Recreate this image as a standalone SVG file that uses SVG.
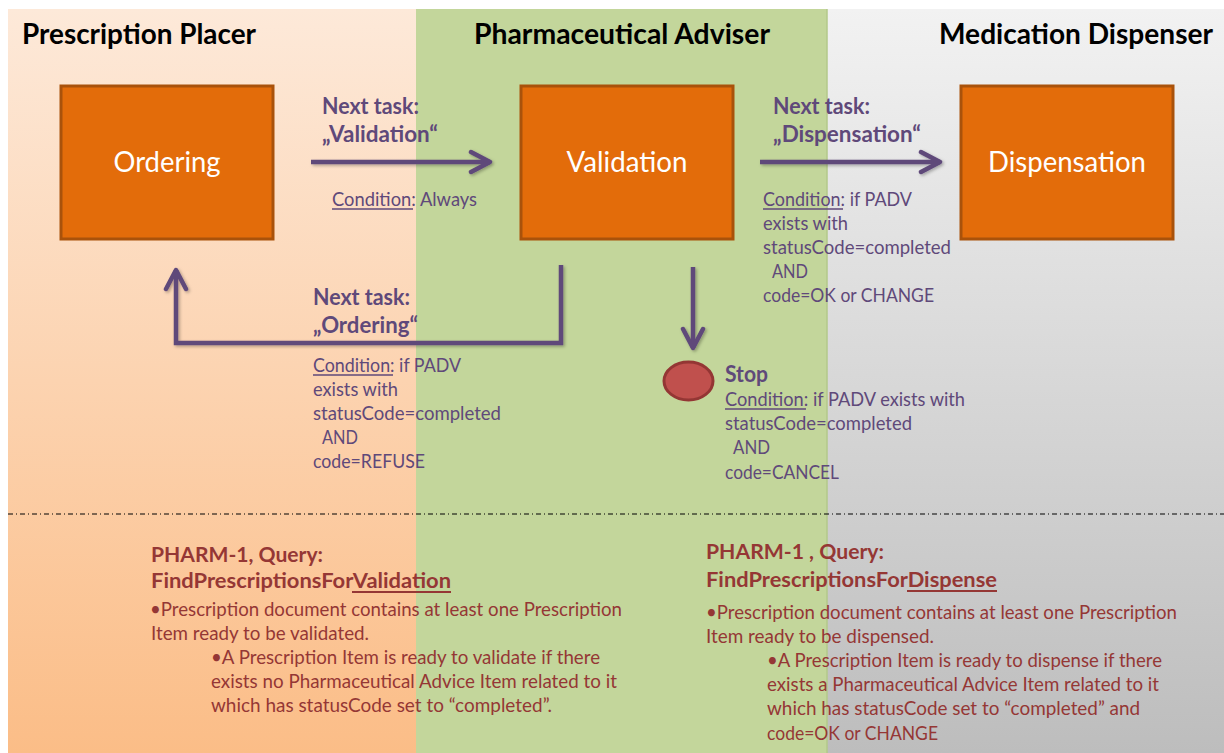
<svg xmlns="http://www.w3.org/2000/svg" width="1224" height="753" viewBox="0 0 1224 753">
  <defs>
    <linearGradient id="gPeach" x1="0" y1="0" x2="0" y2="1">
      <stop offset="0" stop-color="#fde9d9"/>
      <stop offset="1" stop-color="#fbbd87"/>
    </linearGradient>
    <linearGradient id="gGray" x1="0" y1="0" x2="0" y2="1">
      <stop offset="0" stop-color="#f2f2f2"/>
      <stop offset="1" stop-color="#bdbdbd"/>
    </linearGradient>
    <filter id="shadow" x="-20%" y="-20%" width="140%" height="140%">
      <feDropShadow dx="1.5" dy="1.5" stdDeviation="1.5" flood-color="#000" flood-opacity="0.3"/>
    </filter>
    <marker id="chev" viewBox="-22 -13 26 26" markerWidth="26" markerHeight="26" refX="0" refY="0" orient="auto" markerUnits="userSpaceOnUse">
      <path d="M-19,-10 L0,0 L-19,10" fill="none" stroke="#5f497a" stroke-width="4.5" stroke-linecap="round" stroke-linejoin="round"/>
    </marker>
  </defs>
  <style>
    .hdr { font-family: Lato, "Liberation Sans", sans-serif; font-weight: 700; font-size: 28px; fill: #000; }
    .box { fill: #e36c0a; stroke: #a9520b; stroke-width: 3; }
    .boxlbl { font-family: Lato, "Liberation Sans", sans-serif; font-size: 29px; fill: #fff; text-anchor: middle; }
    .lbl { font-family: Lato, "Liberation Sans", sans-serif; font-weight: 700; font-size: 22px; fill: #5f497a; }
    .cond { font-family: Lato, "Liberation Sans", sans-serif; font-size: 20px; fill: #5f497a; }
    .conn { fill: none; stroke: #5f497a; stroke-width: 4.5; }
    .qb { font-family: Lato, "Liberation Sans", sans-serif; font-weight: 700; font-size: 21px; fill: #953735; }
    .qt { font-family: Lato, "Liberation Sans", sans-serif; font-size: 19px; fill: #953735; }
    .ul { stroke: #5f497a; stroke-width: 1.6; }
    .ulr { stroke: #953735; stroke-width: 2; }
  </style>

  <!-- swimlanes -->
  <g id="lanes">
    <rect x="8" y="9" width="408" height="744" fill="url(#gPeach)"/>
    <rect x="416" y="9" width="411" height="744" fill="#c3d69b"/>
    <rect x="827" y="9" width="397" height="744" fill="url(#gGray)"/>
    <line x1="827" y1="9" x2="827" y2="753" stroke="#b3c98a" stroke-width="1.5"/>
    <text class="hdr" x="22" y="44" textLength="234" lengthAdjust="spacingAndGlyphs">Prescription Placer</text>
    <text class="hdr" x="474" y="44" textLength="296" lengthAdjust="spacingAndGlyphs">Pharmaceutical Adviser</text>
    <text class="hdr" x="939" y="44" textLength="274" lengthAdjust="spacingAndGlyphs">Medication Dispenser</text>
    <line x1="8" y1="514" x2="1224" y2="514" stroke="#000" stroke-width="1" stroke-dasharray="5,3,1,3"/>
  </g>

  <!-- nodes -->
  <g id="node-ordering">
    <rect class="box" x="61" y="86" width="212" height="153"/>
    <text class="boxlbl" x="167" y="172" textLength="107" lengthAdjust="spacingAndGlyphs">Ordering</text>
  </g>
  <g id="node-validation">
    <rect class="box" x="521" y="86" width="212" height="153"/>
    <text class="boxlbl" x="627" y="172" textLength="121" lengthAdjust="spacingAndGlyphs">Validation</text>
  </g>
  <g id="node-dispensation">
    <rect class="box" x="961" y="86" width="212" height="153"/>
    <text class="boxlbl" x="1067" y="172" textLength="158" lengthAdjust="spacingAndGlyphs">Dispensation</text>
  </g>
  <g id="node-stop">
    <ellipse cx="688.5" cy="381" rx="24.5" ry="19" fill="#c0504d" stroke="#943634" stroke-width="3"/>
    <text class="lbl" x="725" y="382" textLength="43" lengthAdjust="spacingAndGlyphs">Stop</text>
    <text class="cond" x="725" y="406" textLength="240" lengthAdjust="spacingAndGlyphs">Condition: if PADV exists with</text>
    <line class="ul" x1="725" y1="409" x2="806" y2="409"/>
    <text class="cond" x="725" y="430" textLength="187" lengthAdjust="spacingAndGlyphs">statusCode=completed</text>
    <text class="cond" x="733" y="454" textLength="37" lengthAdjust="spacingAndGlyphs">AND</text>
    <text class="cond" x="725" y="479" textLength="114" lengthAdjust="spacingAndGlyphs">code=CANCEL</text>
  </g>

  <!-- connectors -->
  <g id="connectors" filter="url(#shadow)">
    <path class="conn" d="M311,162 H490" marker-end="url(#chev)"/>
    <path class="conn" d="M760,162 H940" marker-end="url(#chev)"/>
    <path class="conn" d="M561,265 V343 H176 V270" marker-end="url(#chev)"/>
    <path class="conn" d="M693,267 V348" marker-end="url(#chev)"/>
  </g>

  <!-- connector labels -->
  <g id="label-validation">
    <text class="lbl" x="322" y="114" textLength="97" lengthAdjust="spacingAndGlyphs">Next task:</text>
    <text class="lbl" x="322" y="142" textLength="116" lengthAdjust="spacingAndGlyphs">„Validation“</text>
    <text class="cond" x="332" y="206" textLength="145" lengthAdjust="spacingAndGlyphs">Condition: Always</text>
    <line class="ul" x1="332" y1="209" x2="413" y2="209"/>
  </g>
  <g id="label-dispensation">
    <text class="lbl" x="773" y="114" textLength="97" lengthAdjust="spacingAndGlyphs">Next task:</text>
    <text class="lbl" x="773" y="142" textLength="148" lengthAdjust="spacingAndGlyphs">„Dispensation“</text>
    <text class="cond" x="763" y="206" textLength="149" lengthAdjust="spacingAndGlyphs">Condition: if PADV</text>
    <line class="ul" x1="763" y1="209" x2="843" y2="209"/>
    <text class="cond" x="763" y="230" textLength="85" lengthAdjust="spacingAndGlyphs">exists with</text>
    <text class="cond" x="763" y="254" textLength="188" lengthAdjust="spacingAndGlyphs">statusCode=completed</text>
    <text class="cond" x="772" y="278" textLength="36" lengthAdjust="spacingAndGlyphs">AND</text>
    <text class="cond" x="763" y="302" textLength="171" lengthAdjust="spacingAndGlyphs">code=OK or CHANGE</text>
  </g>
  <g id="label-ordering">
    <text class="lbl" x="313" y="305" textLength="97" lengthAdjust="spacingAndGlyphs">Next task:</text>
    <text class="lbl" x="313" y="333" textLength="105" lengthAdjust="spacingAndGlyphs">„Ordering“</text>
    <text class="cond" x="313" y="372" textLength="148" lengthAdjust="spacingAndGlyphs">Condition: if PADV</text>
    <line class="ul" x1="313" y1="375" x2="393" y2="375"/>
    <text class="cond" x="313" y="396" textLength="85" lengthAdjust="spacingAndGlyphs">exists with</text>
    <text class="cond" x="313" y="420" textLength="188" lengthAdjust="spacingAndGlyphs">statusCode=completed</text>
    <text class="cond" x="322" y="444" textLength="36" lengthAdjust="spacingAndGlyphs">AND</text>
    <text class="cond" x="313" y="468" textLength="112" lengthAdjust="spacingAndGlyphs">code=REFUSE</text>
  </g>

  <!-- queries -->
  <g id="query-validation">
    <text class="qb" x="151" y="562" textLength="172" lengthAdjust="spacingAndGlyphs">PHARM-1, Query:</text>
    <text class="qb" x="151" y="588" textLength="300" lengthAdjust="spacingAndGlyphs">FindPrescriptionsForValidation</text>
    <line class="ulr" x1="352" y1="592" x2="451" y2="592"/>
    <text class="qt" x="150" y="616" textLength="472" lengthAdjust="spacingAndGlyphs">•Prescription document contains at least one Prescription</text>
    <text class="qt" x="151" y="640" textLength="218" lengthAdjust="spacingAndGlyphs">Item ready to be validated.</text>
    <text class="qt" x="211" y="664" textLength="389" lengthAdjust="spacingAndGlyphs">•A Prescription Item is ready to validate if there</text>
    <text class="qt" x="211" y="688" textLength="406" lengthAdjust="spacingAndGlyphs">exists no Pharmaceutical Advice Item related to it</text>
    <text class="qt" x="211" y="712" textLength="341" lengthAdjust="spacingAndGlyphs">which has statusCode set to “completed”.</text>
  </g>
  <g id="query-dispense">
    <text class="qb" x="706" y="559" textLength="178" lengthAdjust="spacingAndGlyphs">PHARM-1 , Query:</text>
    <text class="qb" x="706" y="587" textLength="291" lengthAdjust="spacingAndGlyphs">FindPrescriptionsForDispense</text>
    <line class="ulr" x1="907" y1="591" x2="997" y2="591"/>
    <text class="qt" x="706" y="619" textLength="471" lengthAdjust="spacingAndGlyphs">•Prescription document contains at least one Prescription</text>
    <text class="qt" x="706" y="643" textLength="228" lengthAdjust="spacingAndGlyphs">Item ready to be dispensed.</text>
    <text class="qt" x="767" y="667" textLength="395" lengthAdjust="spacingAndGlyphs">•A Prescription Item is ready to dispense if there</text>
    <text class="qt" x="767" y="691" textLength="392" lengthAdjust="spacingAndGlyphs">exists a Pharmaceutical Advice Item related to it</text>
    <text class="qt" x="767" y="715" textLength="373" lengthAdjust="spacingAndGlyphs">which has statusCode set to “completed” and</text>
    <text class="qt" x="767" y="740" textLength="171" lengthAdjust="spacingAndGlyphs">code=OK or CHANGE</text>
  </g>
</svg>
